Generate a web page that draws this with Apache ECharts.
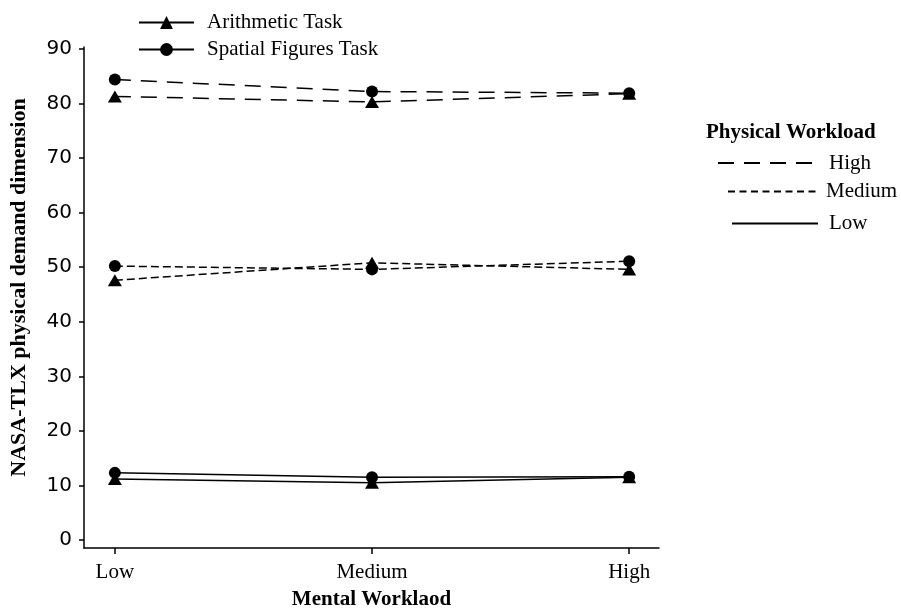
<!DOCTYPE html>
<html>
<head>
<meta charset="utf-8">
<script src="https://cdn.jsdelivr.net/npm/echarts@6/dist/echarts.min.js"></script>
<style>html,body{margin:0;padding:0;background:#fff}#c{width:901px;height:615px}</style>
</head>
<body>
<div id="c"></div>
<script>
// ---- data ----
var categories = ['Low', 'Medium', 'High'];           // Mental Workload
var yTicks = [0, 10, 20, 30, 40, 50, 60, 70, 80, 90];
var arithHigh   = [81.3, 80.3, 81.8];
var spatialHigh = [84.4, 82.2, 81.9];
var arithMed    = [47.6, 50.8, 49.6];
var spatialMed  = [50.2, 49.6, 51.1];
var arithLow    = [11.2, 10.5, 11.5];
var spatialLow  = [12.3, 11.5, 11.6];

var SERIF = '"Liberation Serif", "Times New Roman", serif';
var SANS = '"DejaVu Sans", Verdana, sans-serif';
var dashHigh = [16, 10];
var dashMed = [8, 4];

function pts(arr) { return arr.map(function (v, i) { return [i, v]; }); }

function mk(name, data, symbol, dash) {
  return {
    name: name, type: 'line', data: pts(data),
    symbol: symbol, symbolSize: symbol === 'triangle' ? [14, 12] : 12,
    itemStyle: { color: '#000' },
    lineStyle: { color: '#000', width: 1.5, type: dash },
    z: 3, silent: true, animation: false
  };
}

var series = [
  mk('A-High', arithHigh, 'triangle', dashHigh),
  mk('S-High', spatialHigh, 'circle', dashHigh),
  mk('A-Med', arithMed, 'triangle', dashMed),
  mk('S-Med', spatialMed, 'circle', dashMed),
  mk('A-Low', arithLow, 'triangle', 'solid'),
  mk('S-Low', spatialLow, 'circle', 'solid'),
  // legend-only series
  { name: 'Arithmetic Task', type: 'line', data: [], symbol: 'triangle', symbolSize: 12,
    itemStyle: { color: '#000' }, lineStyle: { color: '#000', width: 1.5 } },
  { name: 'Spatial Figures Task', type: 'line', data: [], symbol: 'circle', symbolSize: 12,
    itemStyle: { color: '#000' }, lineStyle: { color: '#000', width: 1.5 } },
  { name: 'High', type: 'line', data: [], symbol: 'none', itemStyle: { color: '#000' },
    lineStyle: { color: '#000', width: 1.5, type: dashHigh } },
  { name: 'Medium', type: 'line', data: [], symbol: 'none', itemStyle: { color: '#000' },
    lineStyle: { color: '#000', width: 1.5, type: [7, 4.5] } },
  { name: 'Low', type: 'line', data: [], symbol: 'none', itemStyle: { color: '#000' },
    lineStyle: { color: '#000', width: 1.5 } }
];

var legText = { fontFamily: SERIF, fontSize: 21, color: '#000', lineHeight: 21 };
var noSym = { opacity: 0 };

var option = {
  animation: false,
  title: {
    text: 'Physical Workload', left: 706, top: 122, padding: 0,
    textStyle: { fontFamily: SERIF, fontSize: 21, fontWeight: 'bold', color: '#000' }
  },
  legend: [
    { data: ['Arithmetic Task', 'Spatial Figures Task'], orient: 'vertical', left: 138, top: 12,
      itemWidth: 55, itemHeight: 16, itemGap: 6, padding: 0, selectedMode: false,
      textStyle: Object.assign({ padding: [0, 0, 0, 8] }, legText) },
    { data: ['High'], left: 717, top: 152.5, itemWidth: 98, itemHeight: 12, padding: 0, selectedMode: false,
      itemStyle: noSym, textStyle: Object.assign({ padding: [0, 0, 0, 8] }, legText) },
    { data: ['Medium'], left: 727, top: 181, itemWidth: 88, itemHeight: 12, padding: 0, selectedMode: false,
      itemStyle: noSym, textStyle: Object.assign({ padding: [0, 0, 0, 5] }, legText) },
    { data: ['Low'], left: 731, top: 210, itemWidth: 86, itemHeight: 12, padding: 0, selectedMode: false,
      itemStyle: noSym, textStyle: Object.assign({ padding: [6, 0, 0, 6] }, legText) }
  ],
  grid: { left: 82, right: 242, top: 47, bottom: 64, containLabel: false },
  xAxis: {
    type: 'value', min: -0.12, max: 2.116,
    name: 'Mental Worklaod', nameLocation: 'middle', nameGap: 41,
    nameTextStyle: { fontFamily: SERIF, fontSize: 21, fontWeight: 'bold', color: '#000' },
    axisLine: { show: true, onZero: false, lineStyle: { color: '#000', width: 1.5 } },
    axisTick: { show: true, length: 6, customValues: [0, 1, 2], lineStyle: { color: '#000', width: 1.5 } },
    axisLabel: { customValues: [0, 1, 2], margin: 14, fontFamily: SERIF, fontSize: 21, color: '#000',
      formatter: function (v) { return categories[Math.round(v)]; } },
    splitLine: { show: false }
  },
  yAxis: {
    type: 'value', min: -1.47, max: 90.36,
    name: 'NASA-TLX physical demand dimension', nameLocation: 'middle', nameGap: 54, nameRotate: 90,
    nameTextStyle: { fontFamily: SERIF, fontSize: 22, fontWeight: 'bold', color: '#000', padding: [0, 0, 0, 20] },
    axisLine: { show: true, onZero: false, lineStyle: { color: '#000', width: 1.5 } },
    axisTick: { show: true, length: 5, customValues: yTicks, lineStyle: { color: '#000', width: 1.5 } },
    axisLabel: { customValues: yTicks, margin: 12, fontFamily: SANS, fontSize: 20, color: '#000' },
    splitLine: { show: false }
  },
  series: series
};

var chart = echarts.init(document.getElementById('c'), null, { renderer: 'canvas' });
chart.setOption(option);
</script>
</body>
</html>
